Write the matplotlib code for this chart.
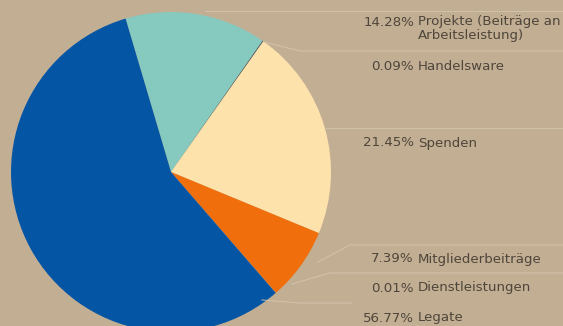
import matplotlib
matplotlib.use("Agg")
import matplotlib.pyplot as plt

# Data
categories = ["Projekte (Beiträge an\nArbeitsleistung)", "Handelsware", "Spenden",
              "Mitgliederbeiträge", "Dienstleistungen", "Legate"]
shares = [14.28, 0.09, 21.45, 7.39, 0.01, 56.77]
pct_labels = ["14.28%", "0.09%", "21.45%", "7.39%", "0.01%", "56.77%"]
colors = ["#86c9be", "#3b4656", "#fde3ab", "#f06f0c", "#c9b79b", "#0555a5"]

W, H = 563, 326
bg = "#c1ae93"
fig = plt.figure(figsize=(W / 100, H / 100), dpi=100, facecolor=bg)
ax = fig.add_axes([0, 0, 1, 1])
ax.set_facecolor(bg)

cx, cy, r = 171, H - 172, 160
ax.pie(shares, colors=colors, startangle=106.5, counterclock=False,
       center=(cx, cy), radius=r, frame=True,
       wedgeprops=dict(linewidth=0))
ax.set_xlim(0, W)
ax.set_ylim(0, H)
ax.set_aspect("equal")
ax.axis("off")

# faint leader lines (pixel coords, y from top)
line_col = "#d4c6ae"
leaders = [
    [(205, 11), (563, 11)],
    [(264, 42), (300, 51), (563, 51)],
    [(326, 128), (563, 128)],
    [(318, 262), (350, 245), (563, 245)],
    [(292, 284), (330, 273), (563, 273)],
    [(262, 300), (300, 303), (352, 303)],
]
for pts in leaders:
    xs = [p[0] for p in pts]
    ys = [H - p[1] for p in pts]
    ax.plot(xs, ys, color=line_col, lw=0.8, alpha=0.8)

# labels
text_col = "#4f463b"
label_y = [22, 67, 143, 259, 288, 318]
fs = 9.6
fam = "DejaVu Sans"
for pct, name, y in zip(pct_labels, categories, label_y):
    ax.text(414, H - y, pct, ha="right", va="center",
            fontsize=fs, color=text_col, family=fam)
    if "\n" in name:
        ax.text(418, H - y + 7, name, ha="left", va="top", fontsize=fs,
                color=text_col, family=fam, linespacing=1.1)
    else:
        ax.text(418, H - y, name, ha="left", va="center",
                fontsize=fs, color=text_col, family=fam)

fig.savefig("out.png", dpi=100, facecolor=bg)
